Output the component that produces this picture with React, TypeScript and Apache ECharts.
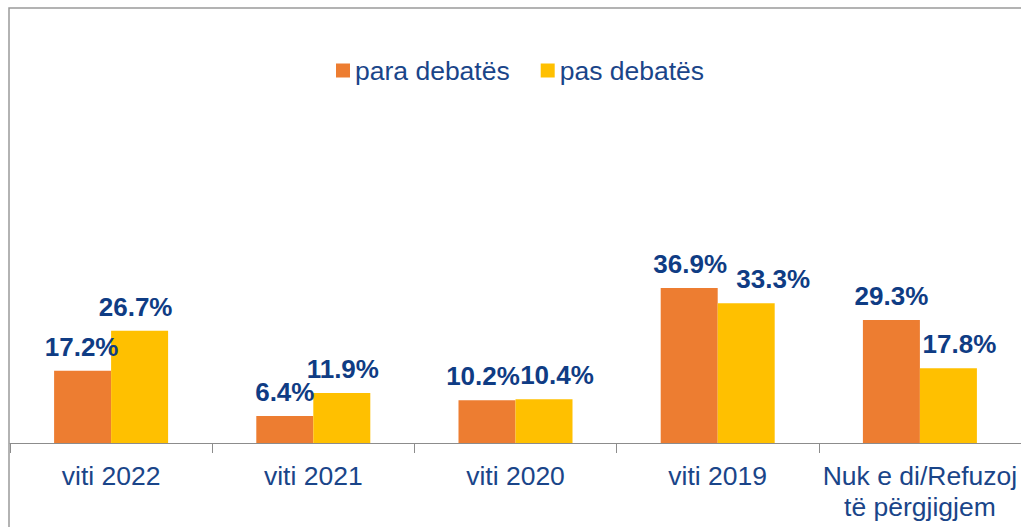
import React, { useEffect, useRef } from "react";
import * as echarts from "echarts";

const categories = ["viti 2022", "viti 2021", "viti 2020", "viti 2019", "Nuk e di/Refuzoj\ntë përgjigjem"];
const paraValues = [17.2, 6.4, 10.2, 36.9, 29.3];
const pasValues = [26.7, 11.9, 10.4, 33.3, 17.8];
const seriesNames = ["para debatës", "pas debatës"];
// small horizontal nudges of the value labels as placed in the original
const paraLabelDx = [-1, 0, -4, 1, 0];
const pasLabelDx = [-4, 1, 13, 27, 11];

const ORANGE = "#ED7D31";
const YELLOW = "#FFC000";
const LABEL_BLUE = "#0F3C84";
const TEXT_BLUE = "#1A4589";
const FONT = "Liberation Sans, Arial, sans-serif";

export default function App() {
  const ref = useRef<HTMLDivElement>(null);
  useEffect(() => {
    if (!ref.current) return;
    const chart = echarts.init(ref.current, null, { renderer: "svg" });
    const labelStyle = {
      show: true,
      position: "top",
      distance: 11,
      color: LABEL_BLUE,
      fontFamily: FONT,
      fontWeight: "bold",
      fontSize: 26,
      formatter: (p: any) => p.value.toFixed(1) + "%",
    };
    chart.setOption({
      animation: false,
      backgroundColor: "#ffffff",
      textStyle: { fontFamily: FONT },
      graphic: [
        {
          type: "rect",
          shape: { x: 9, y: 8, width: 1040, height: 540 },
          style: { fill: "none", stroke: "#9a9a9a", lineWidth: 1.5 },
          silent: true,
        },
      ],
      legend: {
        data: seriesNames,
        left: 331,
        top: 52,
        icon: "rect",
        itemWidth: 14,
        itemHeight: 14,
        itemGap: 31,
        textStyle: { color: TEXT_BLUE, fontSize: 26.5, fontFamily: FONT },
      },
      grid: { left: 10, right: 0, top: 275, bottom: 84, containLabel: false },
      xAxis: {
        type: "category",
        data: categories,
        axisLine: { lineStyle: { color: "#8c8c8c", width: 1 } },
        axisTick: { show: true, length: 10, lineStyle: { color: "#8c8c8c" } },
        axisLabel: {
          color: TEXT_BLUE,
          fontSize: 26.5,
          fontFamily: FONT,
          margin: 17,
          lineHeight: 31,
          interval: 0,
        },
      },
      yAxis: {
        type: "value",
        min: 0,
        max: 40,
        show: false,
        splitLine: { show: false },
      },
      series: [
        {
          name: seriesNames[0],
          type: "bar",
          barWidth: 57,
          barGap: "0%",
          itemStyle: { color: ORANGE },
          label: labelStyle,
          data: paraValues.map((v, i) => ({ value: v, label: { offset: [paraLabelDx[i], 0] } })),
        },
        {
          name: seriesNames[1],
          type: "bar",
          barWidth: 57,
          barGap: "0%",
          itemStyle: { color: YELLOW },
          label: labelStyle,
          data: pasValues.map((v, i) => ({ value: v, label: { offset: [pasLabelDx[i], 0] } })),
        },
      ],
    });
    return () => chart.dispose();
  }, []);
  return (
    <div
      ref={ref}
      style={{ position: "fixed", left: 0, top: 0, width: 1021, height: 527 }}
    />
  );
}
